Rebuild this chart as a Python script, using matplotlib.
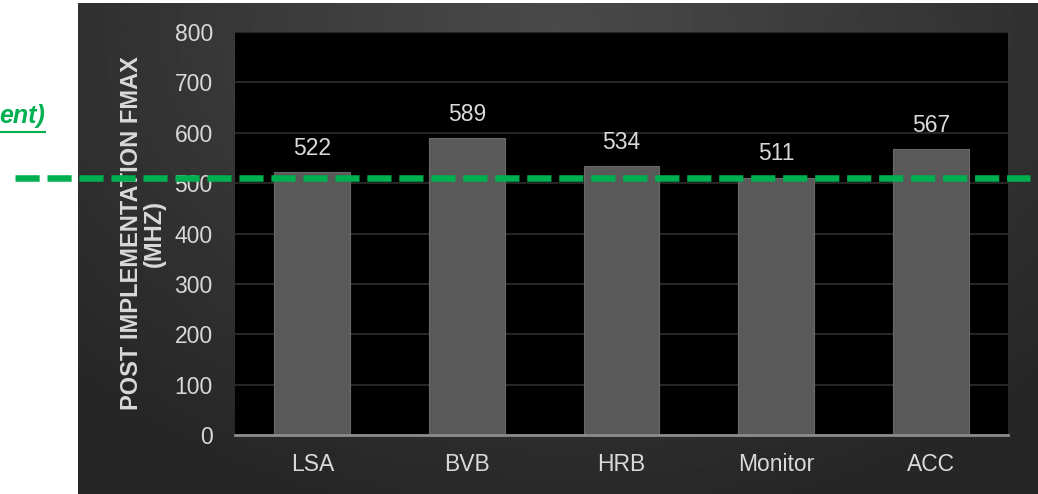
import matplotlib

matplotlib.use("Agg")
import matplotlib.pyplot as plt
import numpy as np

categories = ["LSA", "BVB", "HRB", "Monitor", "ACC"]
fmax_mhz = [522, 589, 534, 511, 567]
target_mhz = 510
y_ticks = [0, 100, 200, 300, 400, 500, 600, 700, 800]

BAR_COLOR = "#595959"
GRID_COLOR = "#262626"
TEXT_COLOR = "#d9d9d9"
GREEN = "#00b050"

plt.rcParams["font.family"] = ["Liberation Sans", "DejaVu Sans"]

W, H = 1038, 494
fig = plt.figure(figsize=(W / 100, H / 100), dpi=100, facecolor="white")

# dark slide panel with a soft radial glow
px0, py0 = 78, 3
bg = fig.add_axes([px0 / W, 0, 1 - px0 / W, (H - py0) / H])
gx, gy = np.meshgrid(np.linspace(0, 1, 400), np.linspace(0, 1, 200))
dist = np.sqrt(((gx - 0.5) / 0.75) ** 2 + ((gy - 0.05) / 1.1) ** 2)
shade = np.clip(0.29 - 0.15 * dist, 0.15, 0.29)
bg.imshow(shade, cmap="gray", vmin=0, vmax=1, aspect="auto", extent=[0, 1, 1, 0])
bg.axis("off")

# plot area
left, right, top, bottom = 235, 1008, 32, 435
ax = fig.add_axes([left / W, 1 - bottom / H, (right - left) / W, (bottom - top) / H])
ax.set_facecolor("black")

x = np.arange(len(categories))
bars = ax.bar(x, fmax_mhz, width=0.49, color=BAR_COLOR, edgecolor="#6a6a6a",
              linewidth=0.8, zorder=3)
for xi, v in zip(x, fmax_mhz):
    ax.text(xi, v + 47, str(v), ha="center", va="center", color=TEXT_COLOR,
            fontsize=16.5, zorder=4)

ax.set_xlim(-0.5, len(categories) - 0.5)
ax.set_ylim(0, 800)
ax.set_yticks(y_ticks)
ax.set_xticks(x)
ax.set_xticklabels(categories)
ax.yaxis.grid(True, color=GRID_COLOR, linewidth=1.5, zorder=0)
ax.tick_params(colors=TEXT_COLOR, labelsize=16.5, length=0)
ax.tick_params(axis="y", pad=16)
ax.tick_params(axis="x", pad=13)
for side in ["top", "right", "left"]:
    ax.spines[side].set_visible(False)
ax.spines["bottom"].set_color("#8c8c8c")
ax.spines["bottom"].set_linewidth(2)
ax.spines["bottom"].set_zorder(5)

ax.set_ylabel("POST IMPLEMENTATION FMAX\n(MHZ)", color=TEXT_COLOR,
              fontsize=17, fontweight="bold", linespacing=1.0, labelpad=6)

# target frequency line runs across the whole slide
ax.axhline(target_mhz, xmin=(15 - left) / (right - left),
           xmax=(1030 - left) / (right - left), color=GREEN, linewidth=4.7,
           dashes=(3.7, 1.2), clip_on=False, zorder=6)

fig.text(45 / W, 1 - 116 / H, "ent)", ha="right", va="center", color=GREEN,
         fontsize=18, fontweight="bold", fontstyle="italic")
fig.add_artist(plt.Line2D([0, 45 / W], [1 - 132 / H, 1 - 132 / H],
                          color=GREEN, linewidth=1.5))

fig.savefig("out.png", dpi=100, facecolor="white")
